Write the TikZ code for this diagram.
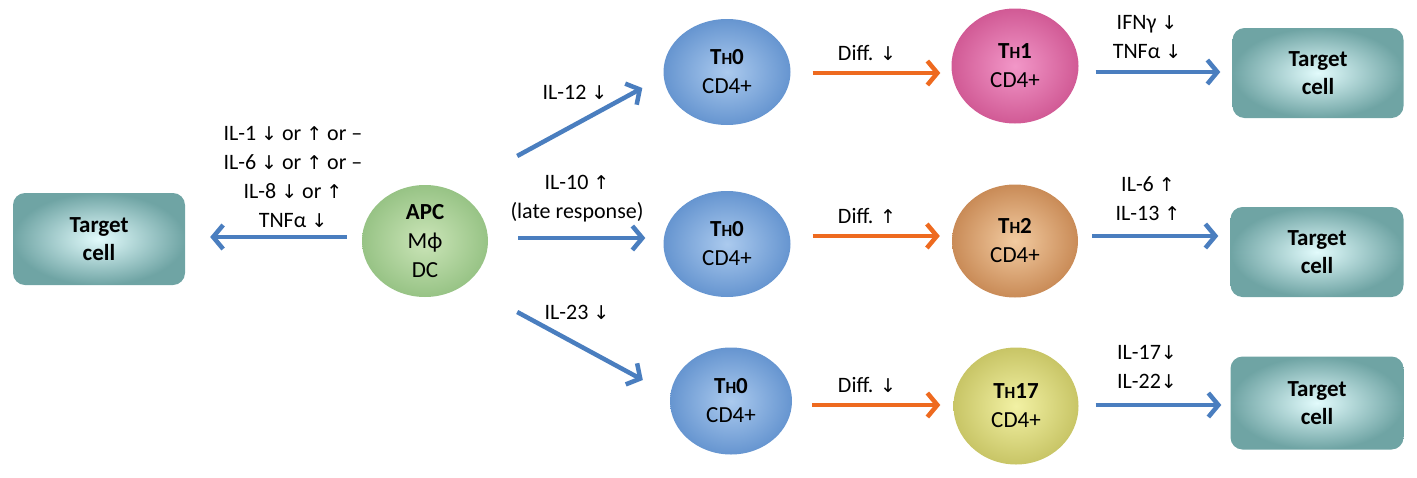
\documentclass[tikz,border=0pt]{standalone}
\usepackage{fontspec}
\setmainfont{Carlito}
\newfontfamily\arrfont{DejaVu Sans}
\usetikzlibrary{shapes.geometric,arrows.meta,calc}
\newcommand{\arrdn}{{\arrfont\fontsize{19}{19}\selectfont ↓}}
\newcommand{\arrup}{{\arrfont\fontsize{19}{19}\selectfont ↑}}
\newcommand{\thname}[1]{\textbf{T{\fontsize{17}{17}\selectfont H}#1}}
\definecolor{bl}{HTML}{4A7EBF}
\definecolor{orng}{HTML}{EE6A1F}
\definecolor{thin}{HTML}{ABCAEE}
\definecolor{thout}{HTML}{6695D0}
\definecolor{apcin}{HTML}{CBE5B8}
\definecolor{apcout}{HTML}{97C385}
\definecolor{pkin}{HTML}{F297C8}
\definecolor{pkout}{HTML}{D15A95}
\definecolor{tnin}{HTML}{F2CBA1}
\definecolor{tnout}{HTML}{C98B57}
\definecolor{ylin}{HTML}{F2F1A4}
\definecolor{ylout}{HTML}{C8C566}
\definecolor{tcin}{HTML}{E2FBFC}
\definecolor{tcout}{HTML}{6FA4A4}
\begin{document}
\begin{tikzpicture}[x=1pt,y=-1pt,
  font=\fontsize{22}{29}\selectfont,
  cell/.style={ellipse, inner sep=0pt, align=center, minimum width=127pt, minimum height=108pt,
    font=\fontsize{23}{29}\selectfont},
  tbox/.style={rectangle, rounded corners=12pt, minimum width=172pt, minimum height=92pt,
    inner color=tcin, outer color=tcout, align=center, font=\fontsize{23}{28}\selectfont\bfseries},
  barrow/.style={line width=4.5pt, draw=bl, -{Straight Barb[length=10pt,width=24pt]}},
  oarrow/.style={line width=4.5pt, draw=orng, -{Straight Barb[length=10pt,width=24pt]}},
  lab/.style={align=center, inner sep=0pt}]
\useasboundingbox (0,0) rectangle (1417,477);
% target cells
\node[tbox] (tcL) at (99,239) {Target\\cell};
\node[tbox, minimum width=171pt, minimum height=90pt] (tc1) at (1318,73) {Target\\cell};
\node[tbox, minimum width=173pt, minimum height=90pt] (tc2) at (1317,252) {Target\\cell};
\node[tbox, minimum width=173pt, minimum height=93pt] (tc3) at (1317,403) {Target\\cell};
% cells
\node[cell, minimum width=126pt, minimum height=112pt, inner color=apcin, outer color=apcout] (apc) at (425,241) {\textbf{APC}\\Mϕ\\DC};
\node[cell, minimum height=106pt, inner color=thin, outer color=thout] (th0a) at (727,72) {\thname{0}\\CD4+};
\node[cell, minimum height=106pt, inner color=thin, outer color=thout] (th0b) at (727,244) {\thname{0}\\CD4+};
\node[cell, minimum width=122pt, minimum height=107pt, inner color=thin, outer color=thout] (th0c) at (731,401) {\thname{0}\\CD4+};
\node[cell, minimum height=115pt, inner color=pkin, outer color=pkout] (th1) at (1015,66) {\thname{1}\\CD4+};
\node[cell, minimum width=126pt, minimum height=113pt, inner color=tnin, outer color=tnout] (th2) at (1015,241) {\thname{2}\\CD4+};
\node[cell, minimum width=125pt, minimum height=117pt, inner color=ylin, outer color=ylout] (th17) at (1016,406) {\thname{17}\\CD4+};
% connectors
\draw[barrow] ($(apc.west)+(-15,-4)$) -- ($(tcL.east)+(25,-2)$);
\draw[barrow] ($(apc.east)+(29,-85)$) -- ($(th0a.west)+(-21,16)$);
\draw[barrow] ($(apc.east)+(30,-3)$) -- ($(th0b.west)+(-18,-6)$);
\draw[barrow] ($(apc.east)+(29,71)$) -- ($(th0c.west)+(-27,-21)$);
\draw[oarrow] ($(th0a.east)+(22,1)$) -- ($(th1.west)+(-11,7)$);
\draw[oarrow] ($(th0b.east)+(22,-8)$) -- ($(th2.west)+(-12,-5)$);
\draw[oarrow] ($(th0c.east)+(20,4)$) -- ($(th17.west)+(-13,-1)$);
\draw[barrow] ($(th1.east)+(17,6)$) -- ($(tc1.west)+(-12,-1)$);
\draw[barrow] ($(th2.east)+(14,-5)$) -- ($(tc2.west)+(-12,-16)$);
\draw[barrow] ($(th17.east)+(17,-1)$) -- ($(tc3.west)+(-9,2)$);
% labels
\node[lab] (lL) at (293,177) {IL-1 \arrdn{} or \arrup{} or –\\IL-6 \arrdn{} or \arrup{} or –\\IL-8 \arrdn{} or \arrup\\TNFα \arrdn};
\node[lab] (l12) at (575,92) {IL-12 \arrdn};
\node[lab] (l10) at (577,199) {IL-10 \arrup\\(late response)};
\node[lab] (l23) at (577,312) {IL-23 \arrdn};
\node[lab] (d1) at (867,53) {Diff. \arrdn};
\node[lab] (d2) at (867,216) {Diff. \arrup};
\node[lab] (d3) at (867,385) {Diff. \arrdn};
\node[lab] (o1) at (1147,37) {IFNγ \arrdn\\TNFα \arrdn};
\node[lab] (o2) at (1148,199) {IL-6 \arrup\\IL-13 \arrup};
\node[lab] (o3) at (1147,367) {IL-17\arrdn\\IL-22\arrdn};
\end{tikzpicture}
\end{document}
